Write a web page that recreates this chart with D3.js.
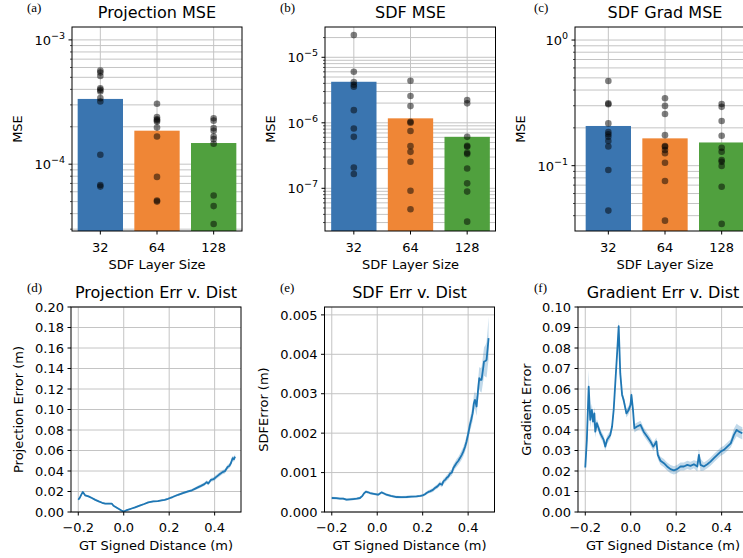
<!DOCTYPE html>
<html>
<head>
<meta charset="utf-8">
<script src="https://cdn.jsdelivr.net/npm/d3@7"></script>
<style>
  body { margin: 0; background: #fff; }
  text { font-family: "DejaVu Sans", sans-serif; fill: #000; }
</style>
</head>
<body>
<script>
// ---- data ----
var layerSizes = ["32", "64", "128"];
var barColors = ["#3a75b0", "#ef8636", "#50a03e"];

var projBar = [3.35e-4, 1.86e-4, 1.48e-4];
var projPts = [
  [5.66e-4, 5.46e-4, 5.13e-4, 4.08e-4, 3.96e-4, 3.84e-4, 3.40e-4, 3.19e-4, 1.19e-4, 6.8e-5, 6.6e-5],
  [3.06e-4, 2.39e-4, 2.30e-4, 2.25e-4, 2.20e-4, 1.97e-4, 1.67e-4, 7.9e-5, 5.1e-5, 5.0e-5],
  [2.34e-4, 2.24e-4, 1.95e-4, 1.86e-4, 1.67e-4, 1.59e-4, 1.46e-4, 5.6e-5, 4.6e-5, 3.3e-5]
];

var sdfBar = [4.23e-6, 1.17e-6, 6.1e-7];
var sdfPts = [
  [2.18e-5, 6.0e-6, 4.2e-6, 3.8e-6, 3.55e-6, 1.56e-6, 8.2e-7, 6.1e-7, 2.08e-7, 1.65e-7],
  [4.38e-6, 2.56e-6, 1.80e-6, 1.04e-6, 1.0e-6, 7.5e-7, 4.4e-7, 3.6e-7, 2.54e-7, 9.2e-8, 4.8e-8],
  [2.22e-6, 1.98e-6, 6.1e-7, 4.46e-7, 4.3e-7, 3.48e-7, 3.33e-7, 2.01e-7, 1.19e-7, 8.9e-8, 3.1e-8]
];

var gradBar = [0.207, 0.165, 0.153];
var gradPts = [
  [0.472, 0.313, 0.308, 0.217, 0.185, 0.178, 0.170, 0.157, 0.142, 0.0925, 0.0439],
  [0.344, 0.299, 0.258, 0.175, 0.1435, 0.1416, 0.1334, 0.1256, 0.1056, 0.0756, 0.0365],
  [0.31, 0.294, 0.227, 0.173, 0.139, 0.129, 0.111, 0.1076, 0.0995, 0.068, 0.0344]
];

// [signed distance, mean error, ci half width]
var projDist = [
  [-0.2, 0.012, 0.0008], [-0.193, 0.014, 0.0008], [-0.186, 0.0172, 0.0008], [-0.18, 0.0195, 0.0008],
  [-0.17, 0.0163, 0.0008], [-0.155, 0.0152, 0.0008], [-0.14, 0.0136, 0.0008], [-0.125, 0.0118, 0.0008],
  [-0.11, 0.0103, 0.0008], [-0.095, 0.009, 0.0008], [-0.081, 0.0081, 0.0008], [-0.066, 0.0082, 0.0008],
  [-0.052, 0.0081, 0.0008], [-0.045, 0.0061, 0.0008], [-0.034, 0.0047, 0.0008], [-0.023, 0.0032, 0.0008],
  [-0.01, 0.0015, 0.0008], [0.0, 0.0004, 0.0008], [0.01, 0.0015, 0.0008], [0.021, 0.0024, 0.0008],
  [0.035, 0.0034, 0.0008], [0.05, 0.0045, 0.0008], [0.07, 0.0062, 0.0008], [0.09, 0.0078, 0.0008],
  [0.108, 0.0094, 0.0008], [0.13, 0.0103, 0.0008], [0.15, 0.0106, 0.0008], [0.166, 0.0113, 0.0008],
  [0.18, 0.0119, 0.0009], [0.195, 0.0129, 0.001], [0.215, 0.0146, 0.001], [0.239, 0.0168, 0.0011],
  [0.26, 0.0184, 0.0012], [0.283, 0.0201, 0.0012], [0.3, 0.0212, 0.0013], [0.315, 0.0228, 0.0014],
  [0.326, 0.024, 0.0015], [0.34, 0.0255, 0.0016], [0.355, 0.0272, 0.0016], [0.365, 0.0292, 0.0017],
  [0.372, 0.0278, 0.0018], [0.384, 0.0314, 0.0018], [0.395, 0.032, 0.0019], [0.406, 0.034, 0.002],
  [0.42, 0.0365, 0.002], [0.435, 0.0389, 0.0021], [0.445, 0.0398, 0.0022], [0.457, 0.0438, 0.0022],
  [0.465, 0.045, 0.0023], [0.472, 0.0478, 0.0024], [0.479, 0.0525, 0.0025], [0.485, 0.0515, 0.0025],
  [0.49, 0.054, 0.0025]
];

var sdfDist = [
  [-0.2, 0.000355, 0.00003], [-0.18, 0.00035, 0.00003], [-0.164, 0.000338, 0.00003], [-0.15, 0.00034, 0.00003],
  [-0.135, 0.000312, 0.00003], [-0.12, 0.00032, 0.00003], [-0.106, 0.000329, 0.00003], [-0.09, 0.00034, 0.00003],
  [-0.076, 0.000355, 0.00003], [-0.065, 0.00041, 0.00003], [-0.057, 0.00048, 0.00003], [-0.05, 0.000515, 0.00003],
  [-0.04, 0.0005, 0.00003], [-0.032, 0.000481, 0.00003], [-0.015, 0.00046, 0.00003], [0.004, 0.000439, 0.00003],
  [0.012, 0.00047, 0.00003], [0.019, 0.000498, 0.00003], [0.03, 0.00047, 0.00003], [0.041, 0.000439, 0.00003],
  [0.06, 0.00041, 0.00003], [0.085, 0.00038, 0.00003], [0.105, 0.000375, 0.00003], [0.129, 0.00038, 0.00003],
  [0.15, 0.00039, 0.00003], [0.173, 0.000397, 0.00003], [0.19, 0.00041, 0.00003], [0.2, 0.000422, 0.00003],
  [0.21, 0.00045, 0.000035], [0.217, 0.000481, 0.00004], [0.225, 0.00051, 0.00004], [0.232, 0.000524, 0.000045],
  [0.245, 0.00056, 0.00005], [0.254, 0.000608, 0.00005], [0.265, 0.00065, 0.000055], [0.276, 0.000718, 0.00006],
  [0.285, 0.00069, 0.00006], [0.291, 0.000777, 0.000065], [0.3, 0.00082, 0.00007], [0.305, 0.000861, 0.00007],
  [0.313, 0.0009, 0.000075], [0.32, 0.000971, 0.00008], [0.328, 0.001, 0.00008], [0.335, 0.001115, 0.00009],
  [0.342, 0.00118, 0.00009], [0.349, 0.001242, 0.0001], [0.357, 0.0013, 0.0001], [0.364, 0.001368, 0.00011],
  [0.372, 0.00145, 0.00012], [0.379, 0.001537, 0.00012], [0.386, 0.00165, 0.00013], [0.393, 0.00179, 0.00014],
  [0.397, 0.0019, 0.00015], [0.401, 0.002002, 0.00016], [0.408, 0.002213, 0.00017], [0.414, 0.00235, 0.00018],
  [0.42, 0.002508, 0.0002], [0.425, 0.00275, 0.00021], [0.43, 0.002846, 0.00022], [0.434, 0.00275, 0.00023],
  [0.437, 0.002677, 0.00024], [0.443, 0.00305, 0.00026], [0.449, 0.003395, 0.00028], [0.454, 0.00335, 0.0003],
  [0.459, 0.003353, 0.00032], [0.465, 0.0036, 0.00034], [0.47, 0.003818, 0.00036], [0.476, 0.00383, 0.0004],
  [0.481, 0.00386, 0.00045], [0.486, 0.00415, 0.00048], [0.49, 0.004409, 0.00055]
];

var gradDist = [
  [-0.2, 0.0217, 0.002], [-0.193, 0.0352, 0.003], [-0.185, 0.0611, 0.008], [-0.178, 0.0449, 0.004],
  [-0.171, 0.0498, 0.003], [-0.166, 0.0441, 0.003], [-0.16, 0.0481, 0.003], [-0.156, 0.0392, 0.003],
  [-0.149, 0.0433, 0.002], [-0.141, 0.0408, 0.002], [-0.134, 0.0384, 0.002], [-0.119, 0.0352, 0.002],
  [-0.112, 0.0319, 0.002], [-0.104, 0.0352, 0.002], [-0.09, 0.0376, 0.002], [-0.082, 0.0417, 0.002],
  [-0.075, 0.0498, 0.002], [-0.068, 0.0627, 0.002], [-0.06, 0.0773, 0.002], [-0.053, 0.0906, 0.003],
  [-0.046, 0.0676, 0.002], [-0.038, 0.0571, 0.002], [-0.031, 0.0546, 0.002], [-0.019, 0.0481, 0.002],
  [-0.009, 0.0498, 0.002], [-0.001, 0.0522, 0.002], [0.003, 0.0571, 0.002], [0.01, 0.0498, 0.002],
  [0.016, 0.0408, 0.002], [0.028, 0.0417, 0.002], [0.043, 0.0425, 0.002], [0.057, 0.0392, 0.002],
  [0.072, 0.0368, 0.002], [0.087, 0.0344, 0.002], [0.099, 0.0319, 0.002], [0.104, 0.0327, 0.002],
  [0.113, 0.0344, 0.002], [0.119, 0.0279, 0.002], [0.131, 0.025, 0.002], [0.146, 0.0238, 0.002],
  [0.16, 0.0222, 0.002], [0.175, 0.0209, 0.002], [0.19, 0.0203, 0.002], [0.204, 0.0209, 0.002],
  [0.219, 0.0222, 0.002], [0.234, 0.0222, 0.002], [0.249, 0.023, 0.002], [0.263, 0.0225, 0.002],
  [0.278, 0.0233, 0.002], [0.293, 0.0222, 0.0025], [0.3, 0.0279, 0.003], [0.307, 0.023, 0.003],
  [0.322, 0.0222, 0.002], [0.337, 0.0233, 0.002], [0.351, 0.0246, 0.002], [0.366, 0.0263, 0.002],
  [0.381, 0.0279, 0.002], [0.396, 0.0295, 0.002], [0.41, 0.0303, 0.002], [0.425, 0.0319, 0.002],
  [0.44, 0.0335, 0.002], [0.454, 0.0376, 0.003], [0.466, 0.04, 0.003], [0.476, 0.0392, 0.003],
  [0.491, 0.0384, 0.003]
];

var distTicks = [-0.2, 0.0, 0.2, 0.4];

// ---- drawing ----
var W = 743, H = 558;
var svg = d3.select("body").append("svg").attr("width", W).attr("height", H);
var gridColor = "#c4c4c4";
var lineBlue = "#1f77b4";

function frame(g, x0, x1, y0, y1) {
  g.append("rect").attr("x", x0).attr("y", y0).attr("width", x1 - x0).attr("height", y1 - y0)
    .attr("fill", "none").attr("stroke", "#000").attr("stroke-width", 1);
}

function labels(g, c) {
  g.append("text").attr("x", c.lx).attr("y", c.y0 - 15)
    .style("font-family", "'Liberation Serif', serif").style("font-size", "13px").text(c.tag);
  g.append("text").attr("x", c.tx).attr("y", c.y0 - 9)
    .attr("text-anchor", "middle").style("font-size", "16px").text(c.title);
  g.append("text").attr("x", c.tx).attr("y", c.y1 + 38)
    .attr("text-anchor", "middle").style("font-size", "13px").text(c.xlabel);
  g.append("text").attr("transform", "translate(" + c.yl + "," + (c.y0 + c.y1) / 2 + ") rotate(-90)")
    .attr("text-anchor", "middle").style("font-size", "13px").text(c.ylabel);
}

function barPanel(c) {
  var g = svg.append("g");
  // bars sit on their own range; the frame can start a little further left (panel c)
  var x = d3.scaleBand().domain(layerSizes).range(c.xr).paddingInner(0.2).paddingOuter(0.1);
  var y = d3.scaleLog().domain(c.ylim).range([c.y1, c.y0]);
  var ticks = y.ticks();
  c.tx = (c.xr[0] + c.xr[1]) / 2;

  // grid, under the bars
  g.selectAll(".hg").data(ticks).join("line")
    .attr("x1", c.x0).attr("x2", c.x1).attr("y1", y).attr("y2", y)
    .attr("stroke", gridColor).attr("stroke-width", 1);
  g.selectAll(".vg").data(layerSizes).join("line")
    .attr("x1", function(d) { return x(d) + x.bandwidth() / 2; })
    .attr("x2", function(d) { return x(d) + x.bandwidth() / 2; })
    .attr("y1", c.y0).attr("y2", c.y1)
    .attr("stroke", gridColor).attr("stroke-width", 1);

  g.selectAll(".bar").data(c.bars).join("rect")
    .attr("x", function(d, i) { return x(layerSizes[i]); })
    .attr("width", x.bandwidth())
    .attr("y", function(d) { return y(d); })
    .attr("height", function(d) { return c.y1 - y(d); })
    .attr("fill", function(d, i) { return barColors[i]; });

  c.pts.forEach(function(arr, i) {
    g.selectAll(null).data(arr).join("circle")
      .attr("cx", x(layerSizes[i]) + x.bandwidth() / 2)
      .attr("cy", function(d) { return y(d); })
      .attr("r", 3.3).attr("fill", "#000").attr("fill-opacity", 0.5);
  });

  // y axis with log ticks
  ticks.forEach(function(t) {
    var major = Math.abs(Math.log10(t) - Math.round(Math.log10(t))) < 1e-6;
    g.append("line").attr("x1", c.x0 - (major ? 3.5 : 2)).attr("x2", c.x0)
      .attr("y1", y(t)).attr("y2", y(t)).attr("stroke", "#000").attr("stroke-width", major ? 1 : 0.7);
    if (major) {
      var e = Math.round(Math.log10(t));
      var tx = g.append("text").attr("x", c.x0 - 7).attr("y", y(t) + 5)
        .attr("text-anchor", "end").style("font-size", "13px");
      tx.append("tspan").text("10");
      tx.append("tspan").attr("dy", -6).style("font-size", "9.5px")
        .text(e < 0 ? "\u2212" + (-e) : String(e));
    }
  });

  // x axis
  layerSizes.forEach(function(s) {
    var cx = x(s) + x.bandwidth() / 2;
    g.append("line").attr("x1", cx).attr("x2", cx).attr("y1", c.y1).attr("y2", c.y1 + 3.5)
      .attr("stroke", "#000");
    g.append("text").attr("x", cx).attr("y", c.y1 + 21).attr("text-anchor", "middle")
      .style("font-size", "13px").text(s);
  });

  frame(g, c.x0, c.x1, c.y0, c.y1);
  labels(g, c);
}

var clipId = 0;
function linePanel(c) {
  var g = svg.append("g");
  var x = d3.scaleLinear().domain([-0.232, 0.516]).range([c.x0, c.x1]);
  var y = d3.scaleLinear().domain([0, c.ymax]).range([c.y1, c.y0]);
  c.tx = (c.x0 + c.x1) / 2;

  c.yticks.forEach(function(t) {
    g.append("line").attr("x1", c.x0).attr("x2", c.x1).attr("y1", y(t)).attr("y2", y(t))
      .attr("stroke", gridColor).attr("stroke-width", 1);
  });
  distTicks.forEach(function(t) {
    g.append("line").attr("x1", x(t)).attr("x2", x(t)).attr("y1", c.y0).attr("y2", c.y1)
      .attr("stroke", gridColor).attr("stroke-width", 1);
  });

  var id = "clip" + (clipId++);
  g.append("clipPath").attr("id", id).append("rect")
    .attr("x", c.x0).attr("y", c.y0).attr("width", c.x1 - c.x0).attr("height", c.y1 - c.y0);
  var plot = g.append("g").attr("clip-path", "url(#" + id + ")");

  var band = d3.area()
    .x(function(d) { return x(d[0]); })
    .y0(function(d) { return y(Math.max(0, d[1] - d[2])); })
    .y1(function(d) { return y(d[1] + d[2]); });
  plot.append("path").datum(c.data).attr("d", band)
    .attr("fill", lineBlue).attr("fill-opacity", 0.28);
  var line = d3.line().x(function(d) { return x(d[0]); }).y(function(d) { return y(d[1]); });
  plot.append("path").datum(c.data).attr("d", line)
    .attr("fill", "none").attr("stroke", lineBlue).attr("stroke-width", 1.8)
    .attr("stroke-linejoin", "round");

  var fy = d3.format(c.yfmt), fx = d3.format(".1f");
  c.yticks.forEach(function(t) {
    g.append("line").attr("x1", c.x0 - 3.5).attr("x2", c.x0).attr("y1", y(t)).attr("y2", y(t))
      .attr("stroke", "#000");
    g.append("text").attr("x", c.x0 - 7).attr("y", y(t) + 4.7).attr("text-anchor", "end")
      .style("font-size", "13px").text(fy(t));
  });
  distTicks.forEach(function(t) {
    g.append("line").attr("x1", x(t)).attr("x2", x(t)).attr("y1", c.y1).attr("y2", c.y1 + 3.5)
      .attr("stroke", "#000");
    g.append("text").attr("x", x(t)).attr("y", c.y1 + 20).attr("text-anchor", "middle")
      .style("font-size", "13px").text(fx(t));
  });

  frame(g, c.x0, c.x1, c.y0, c.y1);
  labels(g, c);
}

var top0 = 27, top1 = 231, bot0 = 307, bot1 = 512;

barPanel({ x0: 72, x1: 242, xr: [72, 242], y0: top0, y1: top1, ylim: [2.9e-5, 1.27e-3], bars: projBar, pts: projPts,
  tag: "(a)", lx: 27, title: "Projection MSE", xlabel: "SDF Layer Size", ylabel: "MSE", yl: 22 });
barPanel({ x0: 325, x1: 495.5, xr: [325.5, 495.5], y0: top0, y1: top1, ylim: [2.23e-8, 2.9e-5], bars: sdfBar, pts: sdfPts,
  tag: "(b)", lx: 280, title: "SDF MSE", xlabel: "SDF Layer Size", ylabel: "MSE", yl: 275 });
barPanel({ x0: 575, x1: 750, xr: [580, 750], y0: top0, y1: top1, ylim: [0.0302, 1.27], bars: gradBar, pts: gradPts,
  tag: "(c)", lx: 534, title: "SDF Grad MSE", xlabel: "SDF Layer Size", ylabel: "MSE", yl: 525 });

linePanel({ x0: 71, x1: 241, y0: bot0, y1: bot1, ymax: 0.2, yticks: d3.range(0, 0.2001, 0.02), yfmt: ".2f",
  data: projDist, tag: "(d)", lx: 27, title: "Projection Err v. Dist",
  xlabel: "GT Signed Distance (m)", ylabel: "Projection Error (m)", yl: 23 });
linePanel({ x0: 324.5, x1: 494.5, y0: bot0, y1: bot1, ymax: 0.0052, yticks: d3.range(0, 0.00501, 0.001), yfmt: ".3f",
  data: sdfDist, tag: "(e)", lx: 280, title: "SDF Err v. Dist",
  xlabel: "GT Signed Distance (m)", ylabel: "SDFError (m)", yl: 268 });
linePanel({ x0: 578, x1: 748, y0: bot0, y1: bot1, ymax: 0.1, yticks: d3.range(0, 0.1001, 0.01), yfmt: ".2f",
  data: gradDist, tag: "(f)", lx: 534, title: "Gradient Err v. Dist",
  xlabel: "GT Signed Distance (m)", ylabel: "Gradient Error", yl: 531 });
</script>
</body>
</html>
